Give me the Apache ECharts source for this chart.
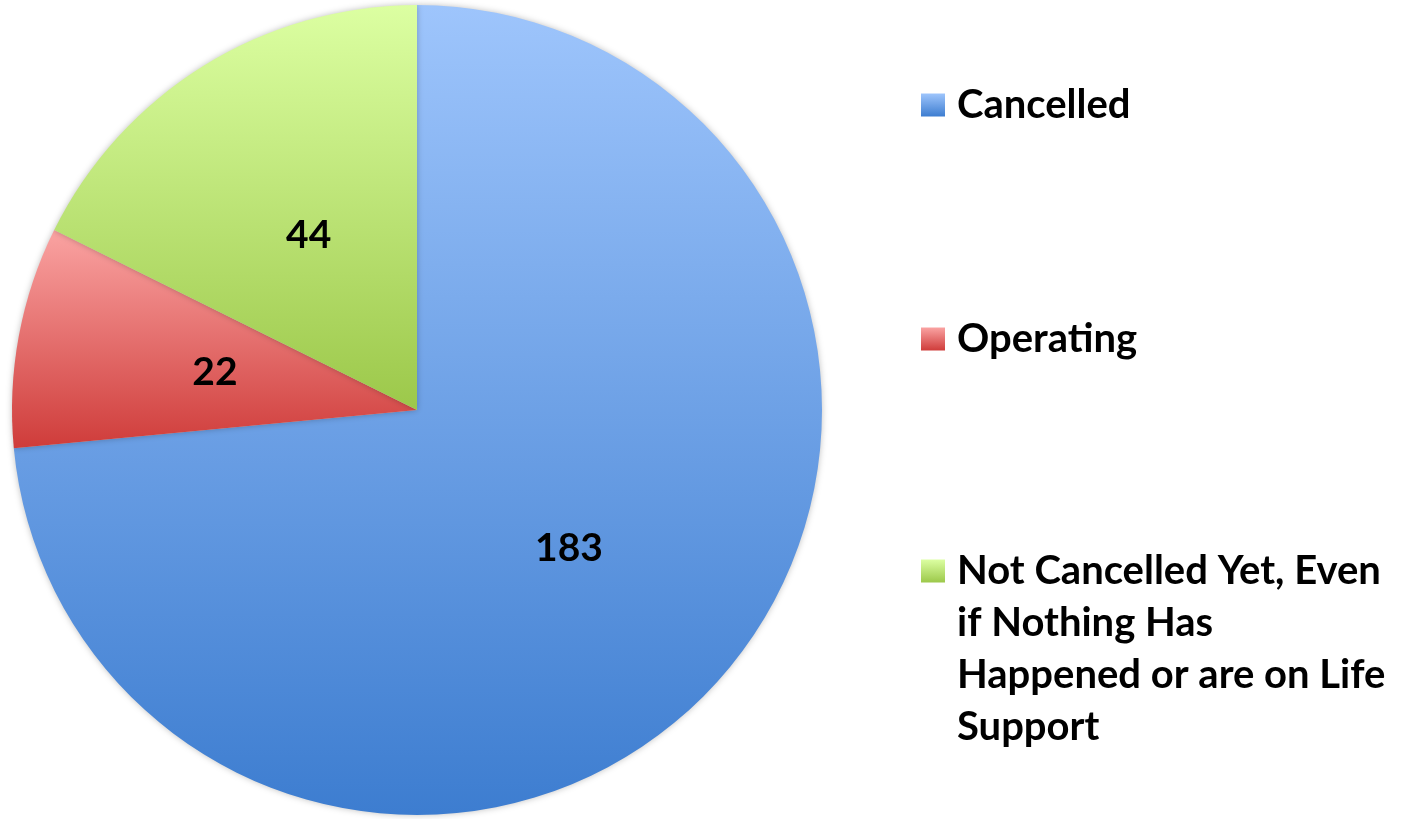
<!DOCTYPE html>
<html><head><meta charset="utf-8">
<script src="https://cdn.jsdelivr.net/npm/echarts@6/dist/echarts.min.js"></script>
<style>html,body{margin:0;padding:0;background:#fff}#c{width:1411px;height:819px}</style>
</head><body><div id="c"></div>
<script>
const categories = ['Cancelled', 'Operating', 'Not Cancelled Yet, Even if Nothing Has Happened or are on Life Support'];
const values = [183, 22, 44];
const legendLines = {
  'Cancelled': ['Cancelled'],
  'Operating': ['Operating'],
  'Not Cancelled Yet, Even if Nothing Has Happened or are on Life Support':
    ['Not Cancelled Yet, Even', 'if Nothing Has', 'Happened or are on Life', 'Support']
};
const gradStops = [['#9ec5fc', '#3d7dd0'], ['#faa3a2', '#cf3c3a'], ['#dcffa2', '#9cc84a']];

const grad = (c) => new echarts.graphic.LinearGradient(0, 0, 0, 1, [{offset: 0, color: c[0]}, {offset: 1, color: c[1]}]);
const FONT = 'Lato';
const LH = 52;
const legendTops = [79, 313, 0];
const legends = categories.map((name, i) => {
  const lines = legendLines[name];
  const base = {
    orient: 'vertical', left: 921, padding: 0, itemWidth: 24, itemHeight: 23,
    icon: 'rect', data: [name], selectedMode: false,
    textStyle: {fontFamily: FONT, fontWeight: 'bold', fontSize: 40, color: '#000', lineHeight: LH, padding: [0, 0, 0, 7]},
    formatter: () => lines.join('\n')
  };
  if (lines.length > 1) {
    // keep the marker aligned with the first line
    base.formatter = () => '\n\n\n' + lines.join('\n');
    base.top = 545 - 3 * LH;
  } else {
    base.top = legendTops[i];
  }
  return base;
});

const chart = echarts.init(document.getElementById('c'));
chart.setOption({
  animation: false,
  legend: legends,
  series: [{
    type: 'pie',
    center: [417, 410],
    radius: 405,
    startAngle: 90,
    clockwise: true,
    avoidLabelOverlap: false,
    label: {position: 'inside', formatter: '{c}', fontFamily: FONT, fontWeight: 'bold', fontSize: 39, color: '#000'},
    labelLine: {show: false},
    emphasis: {disabled: true},
    itemStyle: {borderWidth: 0, shadowBlur: 6, shadowColor: 'rgba(0,0,0,0.25)'},
    data: categories.map((n, i) => ({name: n, value: values[i], itemStyle: {color: grad(gradStops[i])}}))
  }]
});
</script></body></html>
